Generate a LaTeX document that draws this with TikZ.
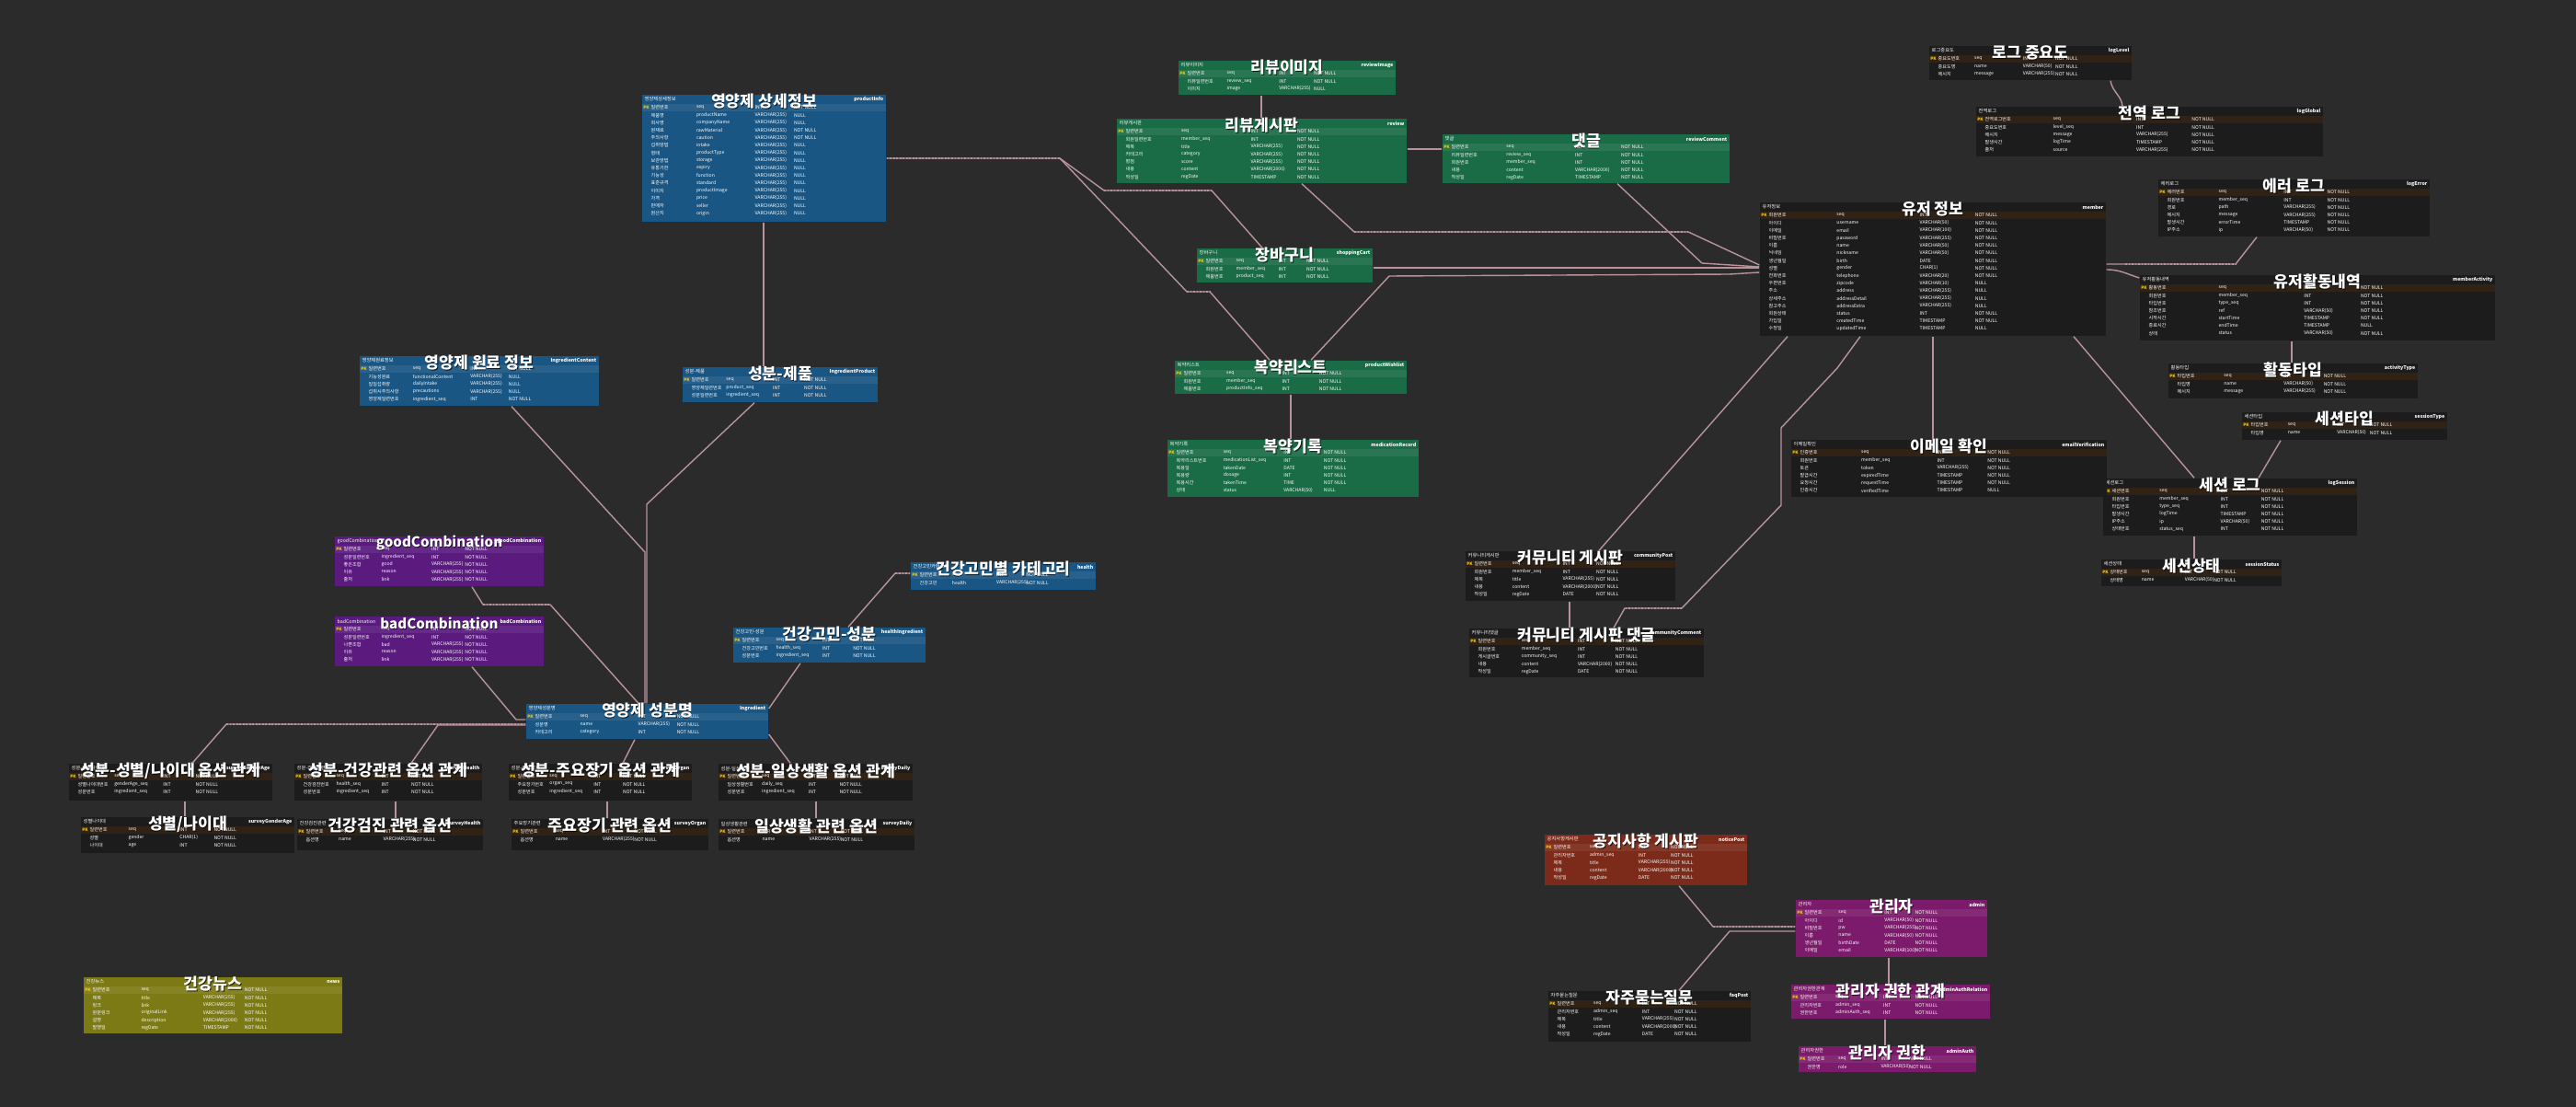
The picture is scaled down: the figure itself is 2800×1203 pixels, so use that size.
\documentclass[tikz,border=0pt]{standalone}
\usepackage{fontspec}
\setmainfont{Noto Sans CJK KR}
\usetikzlibrary{fit}
\definecolor{bg}{HTML}{2B2B2B}
\definecolor{cblue}{HTML}{1A5683}
\definecolor{cgreen}{HTML}{1A6C46}
\definecolor{cpurple}{HTML}{5A1A7E}
\definecolor{cdark}{HTML}{1C1C1C}
\definecolor{colive}{HTML}{7C7A14}
\definecolor{cred}{HTML}{7C2A19}
\definecolor{cmag}{HTML}{7C1A6B}
\definecolor{lnk}{HTML}{B8939C}
\tikzset{
 ttl/.style={inner sep=0pt, text=white, font=\fontsize{4.9pt}{5.5pt}\selectfont\bfseries},
 ttlsh/.style={ttl, text=black, opacity=0.75},
 lbl/.style={inner sep=0pt, text=white!65, font=\fontsize{1.5pt}{1.8pt}\selectfont},
 rlbl/.style={inner sep=0pt, text=white!85, font=\fontsize{1.5pt}{1.8pt}\selectfont\bfseries},
 rowt/.style={inner sep=0pt, text=white!55, font=\fontsize{1.45pt}{1.7pt}\selectfont},
 pkt/.style={inner sep=0pt, text=yellow!70!orange, font=\fontsize{1.3pt}{1.5pt}\selectfont\bfseries},
 pk/.style={fill=white, opacity=0.07},
 conn/.style={draw=lnk, line width=0.4pt, line join=round},
 dots/.style={draw=lnk, line width=0.8pt, dash pattern=on 0.5pt off 0.5pt},
}
\newcommand\erdbox[9]{%
  \fill[#6] (#2,#3) rectangle (#4,#5);
  \fill[pk] (#2,#3+10) rectangle (#4,#3+18);
  \node[fit={(#2,#3) (#4,#5)}, inner sep=0pt] (#1) {};
  \node[ttlsh] at ({(#2+#4)/2+0.8}, #3+8.3) {#7};
  \node[ttl] at ({(#2+#4)/2}, #3+7.5) {#7};
  \node[lbl, anchor=west] at (#2+2, #3+5) {#8};
  \node[rlbl, anchor=east] at (#4-2, #3+5) {#9};
}
\newcommand\erdrows[4]{%
  \pgfmathsetmacro\ww{#3-#1}%
  \foreach \fa/\fb/\fc/\fd [count=\ii from 0] in {#4}{%
    \pgfmathsetmacro\yy{#2+14+8.2*\ii}%
    \node[rowt, anchor=west] at (#1+9,\yy) {\fa};
    \node[rowt, anchor=west, text=white!75] at ({#1+0.22*\ww},\yy) {\fb};
    \node[rowt, anchor=west] at ({#1+0.46*\ww},\yy) {\fc};
    \node[rowt, anchor=west] at ({#1+0.62*\ww},\yy) {\fd};
  }%
  \node[pkt] at (#1+4.5,#2+14) {PK};
}
\begin{document}
\begin{tikzpicture}[x=0.1mm,y=-0.1mm]
\fill[bg] (0,0) rectangle (2800,1203);
\useasboundingbox (0,0) rectangle (2800,1203);

% ---------------- blue / purple (left) ----------------
\erdbox{info}{698}{103}{963}{241}{fill=cblue}{영양제 상세정보}{영양제상세정보}{productInfo}
\erdrows{698}{103}{963}{일련번호/seq/INT/NOT NULL, 제품명/productName/VARCHAR(255)/NULL, 회사명/companyName/VARCHAR(255)/NULL, 원재료/rawMaterial/VARCHAR(255)/NOT NULL, 주의사항/caution/VARCHAR(255)/NOT NULL, 섭취방법/intake/VARCHAR(255)/NULL, 형태/productType/VARCHAR(255)/NULL, 보관방법/storage/VARCHAR(255)/NULL, 유통기한/expiry/VARCHAR(255)/NULL, 기능성/function/VARCHAR(255)/NULL, 표준규격/standard/VARCHAR(255)/NULL, 이미지/productImage/VARCHAR(255)/NULL, 가격/price/VARCHAR(255)/NULL, 판매처/seller/VARCHAR(255)/NULL, 원산지/origin/VARCHAR(255)/NULL}

\erdbox{raw}{391}{387}{651}{441}{fill=cblue}{영양제 원료 정보}{영양제원료정보}{IngredientContent}
\erdrows{391}{387}{651}{일련번호/seq/INT/NOT NULL, 기능성원료/functionalContent/VARCHAR(255)/NULL, 일일섭취량/dailyIntake/VARCHAR(255)/NULL, 섭취시주의사항/precautions/VARCHAR(255)/NULL, 영양제일련번호/ingredient\_seq/INT/NOT NULL}

\erdbox{ingprod}{742}{399}{954}{437}{fill=cblue}{성분-제품}{성분-제품}{IngredientProduct}
\erdrows{742}{399}{954}{일련번호/seq/INT/NOT NULL, 영양제일련번호/product\_seq/INT/NOT NULL, 성분일련번호/ingredient\_seq/INT/NOT NULL}

\tikzset{ttl/.append style={font=\fontsize{4.3pt}{5pt}\selectfont\bfseries}}
\erdbox{good}{364}{583}{591}{637}{fill=cpurple}{goodCombination}{goodCombination}{goodCombination}
\erdrows{364}{583}{591}{일련번호/seq/INT/NOT NULL, 성분일련번호/ingredient\_seq/INT/NOT NULL, 좋은조합/good/VARCHAR(255)/NOT NULL, 이유/reason/VARCHAR(255)/NOT NULL, 출처/link/VARCHAR(255)/NOT NULL}

\erdbox{bad}{364}{670}{591}{724}{fill=cpurple}{badCombination}{badCombination}{badCombination}
\erdrows{364}{670}{591}{일련번호/seq/INT/NOT NULL, 성분일련번호/ingredient\_seq/INT/NOT NULL, 나쁜조합/bad/VARCHAR(255)/NOT NULL, 이유/reason/VARCHAR(255)/NOT NULL, 출처/link/VARCHAR(255)/NOT NULL}
\tikzset{ttl/.append style={font=\fontsize{4.9pt}{5.5pt}\selectfont\bfseries}}

\erdbox{hcat}{990}{611}{1191}{641}{fill=cblue}{건강고민별 카테고리}{건강고민카테고리}{health}
\erdrows{990}{611}{1191}{일련번호/seq/INT/NOT NULL, 건강고민/health/VARCHAR(255)/NOT NULL}

\erdbox{hing}{797}{682}{1006}{720}{fill=cblue}{건강고민-성분}{건강고민-성분}{healthIngredient}
\erdrows{797}{682}{1006}{일련번호/seq/INT/NOT NULL, 건강고민번호/health\_seq/INT/NOT NULL, 성분번호/ingredient\_seq/INT/NOT NULL}

\erdbox{ing}{572}{765}{835}{803}{fill=cblue}{영양제 성분명}{영양제성분명}{Ingredient}
\erdrows{572}{765}{835}{일련번호/seq/INT/NOT NULL, 성분명/name/VARCHAR(255)/NOT NULL, 카테고리/category/INT/NOT NULL}

% ---------------- option relations (dark) ----------------
\tikzset{pk/.style={fill=orange!50!black, opacity=0.2}}
\erdbox{rel1}{75}{830}{296}{870}{fill=cdark}{성분-성별/나이대 옵션 관계}{성분-성별나이대}{surveyGenderAge}
\erdrows{75}{830}{296}{일련번호/seq/INT/NOT NULL, 성별나이대번호/genderAge\_seq/INT/NOT NULL, 성분번호/ingredient\_seq/INT/NOT NULL}
\erdbox{rel2}{320}{830}{524}{870}{fill=cdark}{성분-건강관련 옵션 관계}{성분-건강관련}{surveyHealth}
\erdrows{320}{830}{524}{일련번호/seq/INT/NOT NULL, 건강검진번호/health\_seq/INT/NOT NULL, 성분번호/ingredient\_seq/INT/NOT NULL}
\erdbox{rel3}{553}{830}{752}{870}{fill=cdark}{성분-주요장기 옵션 관계}{성분-주요장기}{surveyOrgan}
\erdrows{553}{830}{752}{일련번호/seq/INT/NOT NULL, 주요장기번호/organ\_seq/INT/NOT NULL, 성분번호/ingredient\_seq/INT/NOT NULL}
\erdbox{rel4}{781}{830}{992}{870}{fill=cdark}{성분-일상생활 옵션 관계}{성분-일상생활}{surveyDaily}
\erdrows{781}{830}{992}{일련번호/seq/INT/NOT NULL, 일상생활번호/daily\_seq/INT/NOT NULL, 성분번호/ingredient\_seq/INT/NOT NULL}

\erdbox{opt1}{88}{888}{320}{927}{fill=cdark}{성별/나이대}{성별나이대}{surveyGenderAge}
\erdrows{88}{888}{320}{일련번호/seq/INT/NOT NULL, 성별/gender/CHAR(1)/NOT NULL, 나이대/age/INT/NOT NULL}
\erdbox{opt2}{323}{890}{525}{924}{fill=cdark}{건강검진 관련 옵션}{건강검진관련}{surveyHealth}
\erdrows{323}{890}{525}{일련번호/seq/INT/NOT NULL, 옵션명/name/VARCHAR(255)/NOT NULL}
\erdbox{opt3}{556}{890}{770}{924}{fill=cdark}{주요장기 관련 옵션}{주요장기관련}{surveyOrgan}
\erdrows{556}{890}{770}{일련번호/seq/INT/NOT NULL, 옵션명/name/VARCHAR(255)/NOT NULL}
\erdbox{opt4}{781}{890}{994}{924}{fill=cdark}{일상생활 관련 옵션}{일상생활관련}{surveyDaily}
\erdrows{781}{890}{994}{일련번호/seq/INT/NOT NULL, 옵션명/name/VARCHAR(255)/NOT NULL}

\tikzset{pk/.style={fill=white, opacity=0.07}}
\erdbox{news}{91}{1062}{372}{1123}{fill=colive}{건강뉴스}{건강뉴스}{news}
\erdrows{91}{1062}{372}{일련번호/seq/INT/NOT NULL, 제목/title/VARCHAR(255)/NOT NULL, 링크/link/VARCHAR(255)/NOT NULL, 원문링크/originalLink/VARCHAR(255)/NOT NULL, 설명/description/VARCHAR(2000)/NOT NULL, 발행일/regDate/TIMESTAMP/NOT NULL}

% ---------------- green ----------------
\erdbox{rimg}{1281}{66}{1517}{103}{fill=cgreen}{리뷰이미지}{리뷰이미지}{reviewImage}
\erdrows{1281}{66}{1517}{일련번호/seq/INT/NOT NULL, 리뷰일련번호/review\_seq/INT/NOT NULL, 이미지/image/VARCHAR(255)/NULL}
\erdbox{review}{1214}{129}{1529}{199}{fill=cgreen}{리뷰게시판}{리뷰게시판}{review}
\erdrows{1214}{129}{1529}{일련번호/seq/INT/NOT NULL, 회원일련번호/member\_seq/INT/NOT NULL, 제목/title/VARCHAR(255)/NOT NULL, 카테고리/category/VARCHAR(255)/NOT NULL, 평점/score/VARCHAR(255)/NOT NULL, 내용/content/VARCHAR(2000)/NOT NULL, 작성일/regDate/TIMESTAMP/NOT NULL}
\erdbox{cmt}{1568}{146}{1880}{199}{fill=cgreen}{댓글}{댓글}{reviewComment}
\erdrows{1568}{146}{1880}{일련번호/seq/INT/NOT NULL, 리뷰일련번호/review\_seq/INT/NOT NULL, 회원번호/member\_seq/INT/NOT NULL, 내용/content/VARCHAR(2000)/NOT NULL, 작성일/regDate/TIMESTAMP/NOT NULL}
\erdbox{cart}{1301}{270}{1492}{307}{fill=cgreen}{장바구니}{장바구니}{shoppingCart}
\erdrows{1301}{270}{1492}{일련번호/seq/INT/NOT NULL, 회원번호/member\_seq/INT/NOT NULL, 제품번호/product\_seq/INT/NOT NULL}
\erdbox{mlist}{1277}{392}{1529}{428}{fill=cgreen}{복약리스트}{복약리스트}{productWishlist}
\erdrows{1277}{392}{1529}{일련번호/seq/INT/NOT NULL, 회원번호/member\_seq/INT/NOT NULL, 제품번호/productInfo\_seq/INT/NOT NULL}
\erdbox{mrec}{1269}{478}{1542}{540}{fill=cgreen}{복약기록}{복약기록}{medicationRecord}
\erdrows{1269}{478}{1542}{일련번호/seq/INT/NOT NULL, 복약리스트번호/medicationList\_seq/INT/NOT NULL, 복용일/takenDate/DATE/NOT NULL, 복용량/dosage/INT/NOT NULL, 복용시간/takenTime/TIME/NOT NULL, 상태/status/VARCHAR(50)/NULL}

% ---------------- dark right ----------------
\tikzset{pk/.style={fill=orange!50!black, opacity=0.2}}
\erdbox{lvl}{2097}{50}{2317}{87}{fill=cdark}{로그 중요도}{로그중요도}{logLevel}
\erdrows{2097}{50}{2317}{중요도번호/seq/INT/NOT NULL, 중요도명/name/VARCHAR(50)/NOT NULL, 메시지/message/VARCHAR(255)/NOT NULL}
\erdbox{glog}{2148}{116}{2525}{170}{fill=cdark}{전역 로그}{전역로그}{logGlobal}
\erdrows{2148}{116}{2525}{전역로그번호/seq/INT/NOT NULL, 중요도번호/level\_seq/INT/NOT NULL, 메시지/message/VARCHAR(255)/NOT NULL, 발생시간/logTime/TIMESTAMP/NOT NULL, 출처/source/VARCHAR(255)/NOT NULL}
\erdbox{user}{1913}{220}{2289}{365}{fill=cdark}{유저 정보}{유저정보}{member}
\erdrows{1913}{220}{2289}{회원번호/seq/INT/NOT NULL, 아이디/username/VARCHAR(50)/NOT NULL, 이메일/email/VARCHAR(100)/NOT NULL, 비밀번호/password/VARCHAR(255)/NOT NULL, 이름/name/VARCHAR(50)/NOT NULL, 닉네임/nickname/VARCHAR(50)/NOT NULL, 생년월일/birth/DATE/NOT NULL, 성별/gender/CHAR(1)/NOT NULL, 전화번호/telephone/VARCHAR(20)/NOT NULL, 우편번호/zipcode/VARCHAR(10)/NULL, 주소/address/VARCHAR(255)/NULL, 상세주소/addressDetail/VARCHAR(255)/NULL, 참고주소/addressExtra/VARCHAR(255)/NULL, 회원상태/status/INT/NOT NULL, 가입일/createdTime/TIMESTAMP/NOT NULL, 수정일/updatedTime/TIMESTAMP/NULL}
\erdbox{elog}{2346}{195}{2641}{257}{fill=cdark}{에러 로그}{에러로그}{logError}
\erdrows{2346}{195}{2641}{에러번호/seq/INT/NOT NULL, 회원번호/member\_seq/INT/NOT NULL, 경로/path/VARCHAR(255)/NOT NULL, 메시지/message/VARCHAR(255)/NOT NULL, 발생시간/errorTime/TIMESTAMP/NOT NULL, IP주소/ip/VARCHAR(50)/NOT NULL}
\erdbox{act}{2326}{299}{2712}{370}{fill=cdark}{유저활동내역}{유저활동내역}{memberActivity}
\erdrows{2326}{299}{2712}{활동번호/seq/INT/NOT NULL, 회원번호/member\_seq/INT/NOT NULL, 타입번호/type\_seq/INT/NOT NULL, 참조번호/ref/VARCHAR(50)/NOT NULL, 시작시간/startTime/TIMESTAMP/NOT NULL, 종료시간/endTime/TIMESTAMP/NULL, 상태/status/VARCHAR(50)/NOT NULL}
\erdbox{atype}{2357}{395}{2628}{433}{fill=cdark}{활동타입}{활동타입}{activityType}
\erdrows{2357}{395}{2628}{타입번호/seq/INT/NOT NULL, 타입명/name/VARCHAR(50)/NOT NULL, 메시지/message/VARCHAR(255)/NOT NULL}
\erdbox{stype}{2437}{448}{2660}{478}{fill=cdark}{세션타입}{세션타입}{sessionType}
\erdrows{2437}{448}{2660}{타입번호/seq/INT/NOT NULL, 타입명/name/VARCHAR(50)/NOT NULL}
\erdbox{slog}{2286}{520}{2562}{582}{fill=cdark}{세션 로그}{세션로그}{logSession}
\erdrows{2286}{520}{2562}{세션번호/seq/INT/NOT NULL, 회원번호/member\_seq/INT/NOT NULL, 타입번호/type\_seq/INT/NOT NULL, 발생시간/logTime/TIMESTAMP/NOT NULL, IP주소/ip/VARCHAR(50)/NOT NULL, 상태번호/status\_seq/INT/NOT NULL}
\erdbox{sstat}{2284}{608}{2480}{637}{fill=cdark}{세션상태}{세션상태}{sessionStatus}
\erdrows{2284}{608}{2480}{상태번호/seq/INT/NOT NULL, 상태명/name/VARCHAR(50)/NOT NULL}
\erdbox{email}{1947}{478}{2290}{540}{fill=cdark}{이메일 확인}{이메일확인}{emailVerification}
\erdrows{1947}{478}{2290}{인증번호/seq/INT/NOT NULL, 회원번호/member\_seq/INT/NOT NULL, 토큰/token/VARCHAR(255)/NOT NULL, 발급시간/expiredTime/TIMESTAMP/NOT NULL, 요청시간/requestTime/TIMESTAMP/NOT NULL, 인증시간/verifiedTime/TIMESTAMP/NULL}
\erdbox{comm}{1593}{599}{1821}{653}{fill=cdark}{커뮤니티 게시판}{커뮤니티게시판}{communityPost}
\erdrows{1593}{599}{1821}{일련번호/seq/INT/NOT NULL, 회원번호/member\_seq/INT/NOT NULL, 제목/title/VARCHAR(255)/NOT NULL, 내용/content/VARCHAR(2000)/NOT NULL, 작성일/regDate/DATE/NOT NULL}
\erdbox{ccmt}{1597}{683}{1852}{736}{fill=cdark}{커뮤니티 게시판 댓글}{커뮤니티댓글}{communityComment}
\erdrows{1597}{683}{1852}{일련번호/seq/INT/NOT NULL, 회원번호/member\_seq/INT/NOT NULL, 게시글번호/community\_seq/INT/NOT NULL, 내용/content/VARCHAR(2000)/NOT NULL, 작성일/regDate/DATE/NOT NULL}

% ---------------- admin ----------------
\tikzset{pk/.style={fill=white, opacity=0.07}}
\erdbox{notice}{1679}{907}{1899}{962}{fill=cred}{공지사항 게시판}{공지사항게시판}{noticePost}
\erdrows{1679}{907}{1899}{일련번호/seq/INT/NOT NULL, 관리자번호/admin\_seq/INT/NOT NULL, 제목/title/VARCHAR(255)/NOT NULL, 내용/content/VARCHAR(2000)/NOT NULL, 작성일/regDate/DATE/NOT NULL}
\erdbox{admin}{1952}{978}{2160}{1040}{fill=cmag}{관리자}{관리자}{admin}
\erdrows{1952}{978}{2160}{일련번호/seq/INT/NOT NULL, 아이디/id/VARCHAR(50)/NOT NULL, 비밀번호/pw/VARCHAR(255)/NOT NULL, 이름/name/VARCHAR(50)/NOT NULL, 생년월일/birthDate/DATE/NOT NULL, 이메일/email/VARCHAR(100)/NOT NULL}
\tikzset{pk/.style={fill=orange!50!black, opacity=0.2}}
\erdbox{faq}{1683}{1077}{1903}{1132}{fill=cdark}{자주묻는질문}{자주묻는질문}{faqPost}
\erdrows{1683}{1077}{1903}{일련번호/seq/INT/NOT NULL, 관리자번호/admin\_seq/INT/NOT NULL, 제목/title/VARCHAR(255)/NOT NULL, 내용/content/VARCHAR(2000)/NOT NULL, 작성일/regDate/DATE/NOT NULL}
\tikzset{pk/.style={fill=white, opacity=0.07}}
\erdbox{arel}{1947}{1070}{2163}{1107}{fill=cmag}{관리자 권한 관계}{관리자권한관계}{adminAuthRelation}
\erdrows{1947}{1070}{2163}{일련번호/seq/INT/NOT NULL, 관리자번호/admin\_seq/INT/NOT NULL, 권한번호/adminAuth\_seq/INT/NOT NULL}
\erdbox{auth}{1955}{1137}{2148}{1165}{fill=cmag}{관리자 권한}{관리자권한}{adminAuth}
\erdrows{1955}{1137}{2148}{일련번호/seq/INT/NOT NULL, 권한명/role/VARCHAR(50)/NOT NULL}

% ================= connectors =================
% left group
\draw[conn] (830,0 |- info.south) -- (830,0 |- ingprod.north);
\draw[conn] (556,0 |- raw.south) -- (701,600) -- (701,0 |- ing.north);
\draw[conn] (820,0 |- ingprod.south) -- (703,548) -- (703,0 |- ing.north);
\draw[conn] (513,0 |- good.south) -- (525,657) -- (598,657) -- (694,0 |- ing.north);
\draw[dots] (525,657) -- (598,657);
\draw[conn] (513,0 |- bad.south) -- (561,782) -- (ing.west |- 0,782);
\draw[conn] (ing.west |- 0,787) -- (246,787) -- (209,0 |- rel1.north);
\draw[conn] (ing.west |- 0,788) -- (476,788) -- (447,0 |- rel2.north);
\draw[dots] (ing.west |- 0,787) -- (246,787);
\draw[conn] (690,0 |- ing.south) -- (677,0 |- rel3.north);
\draw[conn] (ing.east |- 0,798) -- (859,0 |- rel4.north);
\draw[conn] (870,0 |- hing.south) -- (ing.east |- 0,770);
\draw[conn] (hcat.west |- 0,623) -- (973,623) -- (922,0 |- hing.north);
\draw[dots] (hcat.west |- 0,623) -- (973,623);
\draw[conn] (201,0 |- rel1.south) -- (201,0 |- opt1.north);
\draw[conn] (430,0 |- rel2.south) -- (430,0 |- opt2.north);
\draw[conn] (660,0 |- rel3.south) -- (660,0 |- opt3.north);
\draw[conn] (887,0 |- rel4.south) -- (887,0 |- opt4.north);

% green group
\draw[conn] (1371,0 |- rimg.south) -- (1371,0 |- review.north);
\draw[conn] (review.east |- 0,162) -- (cmt.west |- 0,162);
\draw[dots] (review.east |- 0,162) -- (cmt.west |- 0,162);
\draw[conn] (info.east |- 0,172) -- (1152,172) -- (1200,207) -- (1317,207) -- (1372,0 |- cart.north);
\draw[dots] (info.east |- 0,172) -- (1152,172);
\draw[dots] (1200,207) -- (1317,207);
\draw[conn] (1152,172) -- (1290,317) -- (1315,317) -- (1380,0 |- mlist.north);
\draw[dots] (1290,317) -- (1315,317);
\draw[conn] (1415,0 |- review.south) -- (1472,252) -- (1835,252) -- (user.west |- 0,288);
\draw[dots] (1472,252) -- (1835,252);
\draw[conn] (1758,0 |- cmt.south) -- (1850,286) -- (user.west |- 0,290);
\draw[conn] (cart.east |- 0,291) -- (user.west |- 0,291);
\draw[dots] (cart.east |- 0,291) -- (1880,291);
\draw[conn] (1425,0 |- mlist.north) -- (1510,300) -- (1880,298) -- (user.west |- 0,296);
\draw[conn] (1403,0 |- mlist.south) -- (1403,0 |- mrec.north);

% right group
\draw[conn] (2294,0 |- lvl.south) .. controls (2296,100) and (2306,104) .. (2307,0 |- glog.north);
\draw[conn] (user.east |- 0,293) .. controls (2305,293) and (2312,298) .. (act.west |- 0,302);
\draw[conn] (user.east |- 0,287) -- (2430,287) -- (2453,0 |- elog.south);
\draw[dots] (2310,287) -- (2430,287);
\draw[conn] (2491,0 |- act.south) -- (2491,0 |- atype.north);
\draw[conn] (2254,0 |- user.south) -- (2385,0 |- slog.north);
\draw[conn] (2479,0 |- stype.south) -- (2455,0 |- slog.north);
\draw[conn] (2385,0 |- slog.south) -- (2385,0 |- sstat.north);
\draw[conn] (2101,0 |- user.south) -- (2101,0 |- email.north);
\draw[conn] (1943,0 |- user.south) -- (1738,0 |- comm.north);
\draw[conn] (2022,0 |- user.south) -- (1997,400) -- (1936,465) -- (1936,549) -- (1828,661) -- (1766,661) -- (1754,0 |- ccmt.north);
\draw[dots] (1828,661) -- (1766,661);
\draw[conn] (1706,0 |- comm.south) -- (1706,0 |- ccmt.north);

% admin group
\draw[conn] (1825,0 |- notice.south) -- (1862,1007) -- (admin.west |- 0,1007);
\draw[dots] (1862,1007) -- (admin.west |- 0,1007);
\draw[conn] (1825,0 |- faq.north) -- (1880,1012) -- (admin.west |- 0,1012);
\draw[conn] (2053,0 |- admin.south) -- (2053,0 |- arel.north);
\draw[conn] (2049,0 |- arel.south) -- (2049,0 |- auth.north);
\end{tikzpicture}
\end{document}
